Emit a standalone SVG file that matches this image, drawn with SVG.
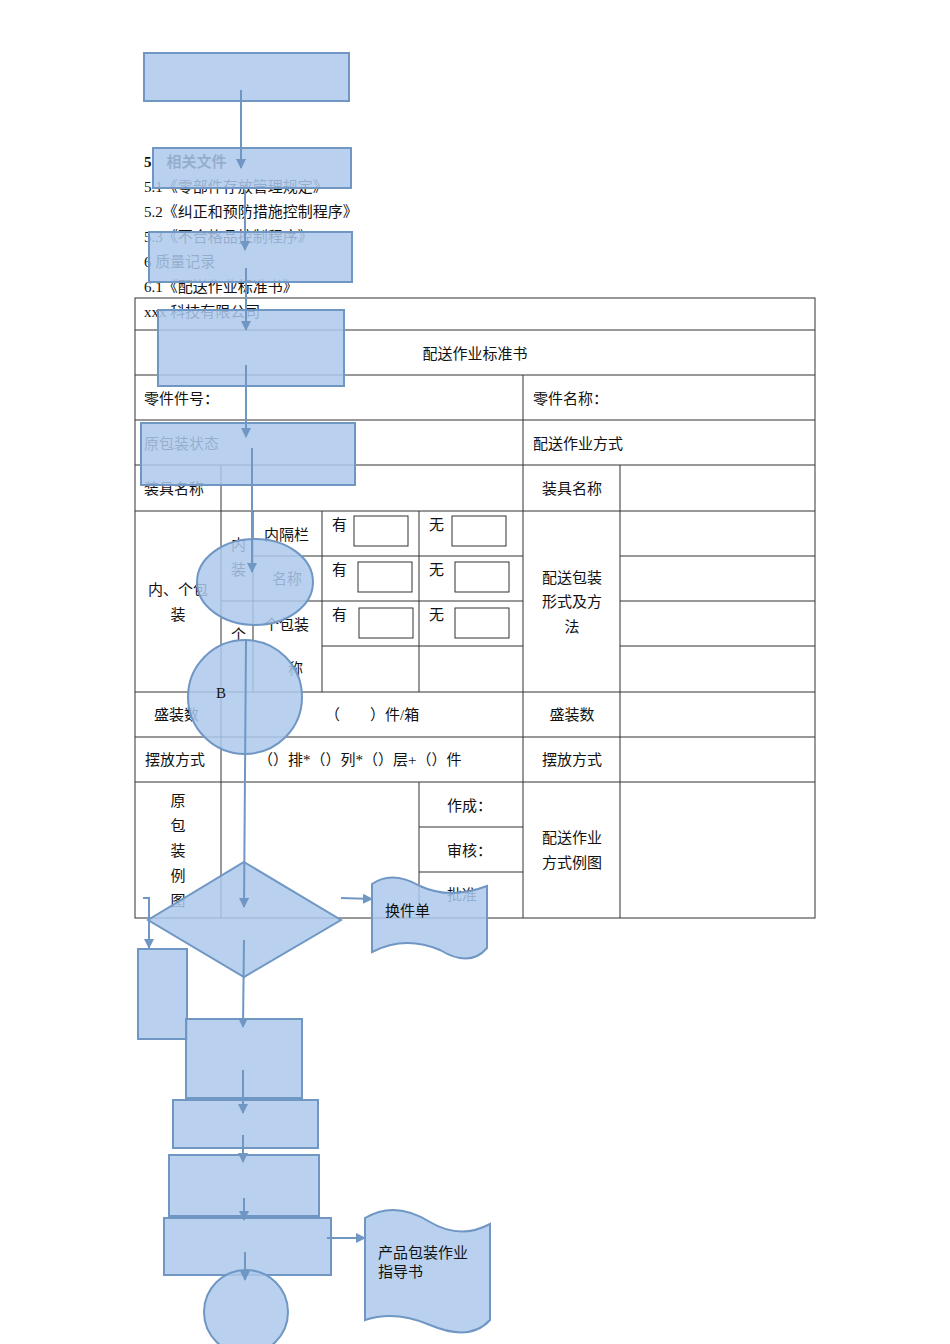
<svg xmlns="http://www.w3.org/2000/svg" width="950" height="1344" viewBox="0 0 950 1344">
<style>
text{font-family:"Liberation Serif","Noto Sans CJK SC",serif;font-size:15px;fill:#111}
.t line,.t rect{stroke:#333;stroke-width:1;fill:none}
.b{stroke:#111;stroke-width:2;fill:#fff}
.s{fill:#adc9ec;fill-opacity:0.85;stroke:#7097c4;stroke-width:2}
.c line,.c path{stroke:#7097c4;stroke-width:2;fill:none}
</style>
<defs><marker id="a" viewBox="0 0 10 10" refX="9" refY="5" markerWidth="5" markerHeight="5" orient="auto"><path d="M0,0L10,5L0,10z" fill="#7097c4"/></marker></defs>
<rect width="950" height="1344" fill="#fff"/>
<g id="text-top">
<text x="144" y="167" font-weight="bold">5　相关文件</text>
<text x="144" y="192">5.1《零部件存放管理规定》</text>
<text x="144" y="217">5.2《纠正和预防措施控制程序》</text>
<text x="144" y="242">5.3《不合格品控制程序》</text>
<text x="144" y="267">6 质量记录</text>
<text x="144" y="292">6.1《配送作业标准书》</text>
</g>
<g id="table" class="t">
<rect x="135" y="298" width="680" height="620"/>
<line x1="135" y1="330" x2="815" y2="330"/><line x1="135" y1="375" x2="815" y2="375"/>
<line x1="135" y1="420" x2="815" y2="420"/><line x1="135" y1="465" x2="815" y2="465"/>
<line x1="135" y1="511" x2="815" y2="511"/><line x1="253" y1="556" x2="523" y2="556"/>
<line x1="221" y1="601" x2="523" y2="601"/><line x1="322" y1="646" x2="523" y2="646"/>
<line x1="620" y1="556" x2="815" y2="556"/><line x1="620" y1="601" x2="815" y2="601"/><line x1="620" y1="646" x2="815" y2="646"/>
<line x1="135" y1="692" x2="815" y2="692"/><line x1="135" y1="737" x2="815" y2="737"/><line x1="135" y1="782" x2="815" y2="782"/>
<line x1="419" y1="827" x2="523" y2="827"/><line x1="419" y1="872" x2="523" y2="872"/>
<line x1="523" y1="375" x2="523" y2="918"/><line x1="221" y1="465" x2="221" y2="918"/>
<line x1="620" y1="465" x2="620" y2="918"/><line x1="253" y1="511" x2="253" y2="692"/>
<line x1="322" y1="511" x2="322" y2="692"/><line x1="419" y1="511" x2="419" y2="692"/><line x1="419" y1="782" x2="419" y2="918"/>
<rect class="b" x="354" y="516" width="54" height="30"/><rect class="b" x="452" y="516" width="54" height="30"/>
<rect class="b" x="358" y="562" width="54" height="30"/><rect class="b" x="455" y="562" width="54" height="30"/>
<rect class="b" x="359" y="608" width="54" height="30"/><rect class="b" x="455" y="608" width="54" height="30"/>
</g>
<g id="table-text">
<text x="144" y="317">xxx 科技有限公司</text>
<text x="475" y="359" font-size="17" text-anchor="middle">配送作业标准书</text>
<text x="144" y="404">零件件号：</text><text x="533" y="404">零件名称：</text>
<text x="144" y="449">原包装状态</text><text x="533" y="449">配送作业方式</text>
<text x="144" y="494">装具名称</text><text x="572" y="494" text-anchor="middle">装具名称</text>
<text x="178" y="595" text-anchor="middle">内、个包</text><text x="178" y="620" text-anchor="middle">装</text>
<text x="231" y="550">内</text><text x="231" y="575">装</text><text x="231" y="640">个</text>
<text x="264" y="540">内隔栏</text><text x="272" y="584">名称</text><text x="264" y="630">个包装</text><text x="288" y="674">称</text>
<text x="332" y="530">有</text><text x="429" y="530">无</text>
<text x="332" y="575">有</text><text x="429" y="575">无</text>
<text x="332" y="620">有</text><text x="429" y="620">无</text>
<text x="572" y="583" text-anchor="middle">配送包装</text><text x="572" y="607" text-anchor="middle">形式及方</text><text x="572" y="632" text-anchor="middle">法</text>
<text x="154" y="720">盛装数</text><text x="325" y="720">（　　）件/箱</text><text x="572" y="720" text-anchor="middle">盛装数</text>
<text x="145" y="765">摆放方式</text><text x="258" y="765">（）排*（）列*（）层+（）件</text><text x="572" y="765" text-anchor="middle">摆放方式</text>
<text x="178" y="806" text-anchor="middle">原</text><text x="178" y="831" text-anchor="middle">包</text><text x="178" y="856" text-anchor="middle">装</text><text x="178" y="881" text-anchor="middle">例</text><text x="178" y="906" text-anchor="middle">图</text>
<text x="447" y="811">作成：</text><text x="447" y="856">审核：</text><text x="447" y="900">批准</text>
<text x="572" y="843" text-anchor="middle">配送作业</text><text x="572" y="868" text-anchor="middle">方式例图</text>
</g>
<g id="n1"><rect class="s" x="144" y="53" width="205" height="48"/></g>
<g id="n2"><rect class="s" x="153" y="148" width="198" height="40"/></g>
<g id="n3"><rect class="s" x="149" y="232" width="203" height="50"/></g>
<g id="n4"><rect class="s" x="158" y="310" width="186" height="76"/></g>
<g id="n5"><rect class="s" x="141" y="423" width="214" height="62"/></g>
<g id="n6"><ellipse class="s" cx="255" cy="582" rx="58" ry="43"/></g>
<g id="n7"><circle class="s" cx="245" cy="697" r="57"/><text x="216" y="698">B</text></g>
<g id="n8"><path class="s" d="M244,862L341,920L244,977L148,920Z"/></g>
<g id="n9"><path class="s" d="M372,884Q392,870 420,886Q450,900 487,886V948Q470,968 440,950Q405,935 372,952Z"/><text x="385" y="916">换件单</text></g>
<g id="n10"><rect class="s" x="138" y="949" width="49" height="90"/></g>
<g id="n11"><rect class="s" x="186" y="1019" width="116" height="79"/></g>
<g id="n12"><rect class="s" x="173" y="1100" width="145" height="48"/></g>
<g id="n13"><rect class="s" x="169" y="1155" width="150" height="61"/></g>
<g id="n14"><rect class="s" x="164" y="1218" width="167" height="57"/></g>
<g id="n15"><path class="s" d="M365,1218Q395,1200 430,1222Q460,1240 490,1224V1320Q470,1342 430,1325Q395,1310 365,1320Z"/><text x="378" y="1258">产品包装作业</text><text x="378" y="1277">指导书</text></g>
<g id="n16"><circle class="s" cx="246" cy="1312" r="42"/></g>
<g class="c" id="connectors">
<line x1="241" y1="90" x2="241" y2="168" marker-end="url(#a)"/>
<line x1="245" y1="190" x2="245" y2="250" marker-end="url(#a)"/>
<line x1="246" y1="268" x2="246" y2="330" marker-end="url(#a)"/>
<line x1="246" y1="365" x2="246" y2="437" marker-end="url(#a)"/>
<line x1="252" y1="448" x2="252" y2="572" marker-end="url(#a)"/>
<line x1="246" y1="640" x2="244" y2="907" marker-end="url(#a)"/>
<line x1="244" y1="940" x2="243" y2="1027" marker-end="url(#a)"/>
<line x1="243" y1="1070" x2="243" y2="1113" marker-end="url(#a)"/>
<line x1="243" y1="1135" x2="243" y2="1162" marker-end="url(#a)"/>
<line x1="244" y1="1198" x2="244" y2="1220" marker-end="url(#a)"/>
<line x1="245" y1="1252" x2="245" y2="1280" marker-end="url(#a)"/>
<line x1="341" y1="898" x2="372" y2="899" marker-end="url(#a)"/>
<line x1="327" y1="1238" x2="365" y2="1238" marker-end="url(#a)"/>
<path d="M143,898H149V948" marker-end="url(#a)"/>
</g>
</svg>
